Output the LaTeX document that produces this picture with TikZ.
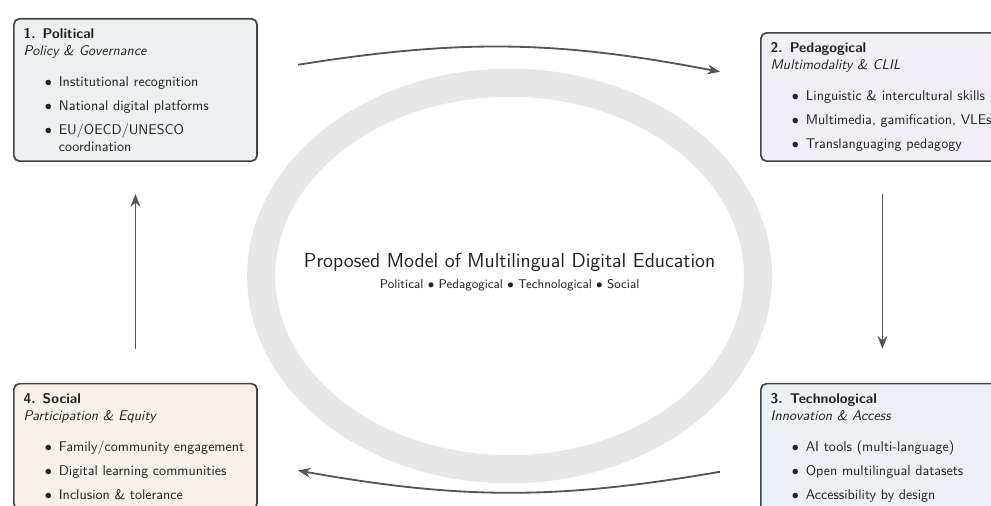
\documentclass[tikz,border=0pt]{standalone}
\usepackage{enumitem}
\usetikzlibrary{arrows.meta,positioning}
\renewcommand{\familydefault}{\sfdefault}
\setlength{\parindent}{0pt}
\setlist[itemize]{label=$\bullet$, topsep=0pt, partopsep=0pt, itemsep=5pt, parsep=0pt, leftmargin=25pt}
\definecolor{edgecol}{HTML}{444444}
\definecolor{arrowcol}{HTML}{555555}
\definecolor{ringcol}{HTML}{E7E7E7}
\definecolor{textcol}{HTML}{222222}
\definecolor{polfill}{HTML}{E9F2F1}
\definecolor{pedfill}{HTML}{F1EEF5}
\definecolor{techfill}{HTML}{ECF1F5}
\definecolor{socfill}{HTML}{F7F1EA}

\begin{document}
\begin{tikzpicture}[
        box/.style={draw=edgecol, line width=1.2pt, rounded corners=4pt,
                    text=textcol, align=left, text width=159pt, inner sep=7pt},
        flow/.style={-{Stealth[length=9pt,width=7pt]}, arrowcol, line width=1.3pt},
        ring/.style={draw=ringcol, line width=20pt}
      ]
        \clip (0,0) rectangle (24.775,12.65);
        \coordinate (centre) at (12.74,5.75);
        \draw[ring] (centre) ellipse [x radius=6.21cm, y radius=4.83cm];
        \node[font=\Large, text=textcol] (title) at (12.74,6.1)
            {Proposed Model of Multilingual Digital Education};
        \node[font=\small, text=textcol, inner sep=1pt] (sub) [below=1pt of title]
            {Political $\bullet$ Pedagogical $\bullet$ Technological $\bullet$ Social};
        % the four dimensions
        \node[box, fill=polfill, anchor=south west] (pol) at (0.325,8.6) {%
            \textbf{1. Political}\\ \textit{Policy \& Governance}\par\vspace{10pt}
            \begin{itemize}
              \item Institutional recognition
              \item National digital platforms
              \item EU/OECD/UNESCO coordination
            \end{itemize}};
        \node[box, fill=pedfill, anchor=south west] (ped) at (19.0,8.6) {%
            \textbf{2. Pedagogical}\\ \textit{Multimodality \& CLIL}\par\vspace{10pt}
            \begin{itemize}
              \item Linguistic \& intercultural skills
              \item Multimedia, gamification, VLEs
              \item Translanguaging pedagogy
            \end{itemize}};
        \node[box, fill=techfill, anchor=north west] (tech) at (19.0,3.08) {%
            \textbf{3. Technological}\\ \textit{Innovation \& Access}\par\vspace{10pt}
            \begin{itemize}
              \item AI tools (multi-language)
              \item Open multilingual datasets
              \item Accessibility by design
            \end{itemize}};
        \node[box, fill=socfill, anchor=north west] (soc) at (0.325,3.08) {%
            \textbf{4. Social}\\ \textit{Participation \& Equity}\par\vspace{10pt}
            \begin{itemize}
              \item Family/community engagement
              \item Digital learning communities
              \item Inclusion \& tolerance
            \end{itemize}};
        % cycle
        \draw[flow] ([xshift=1cm, yshift=0.63cm]pol.east) to[bend left=10]
                    ([xshift=-1cm, yshift=0.63cm]ped.west);
        \draw[flow] ([yshift=-0.8cm]ped.south) -- ([yshift=0.85cm]tech.north);
        \draw[flow] ([xshift=-1cm, yshift=-0.6cm]tech.west) to[bend left=10]
                    ([xshift=1cm, yshift=-0.6cm]soc.east);
        \draw[flow] ([yshift=0.85cm]soc.north) -- ([yshift=-0.8cm]pol.south);
      \end{tikzpicture}
\end{document}
